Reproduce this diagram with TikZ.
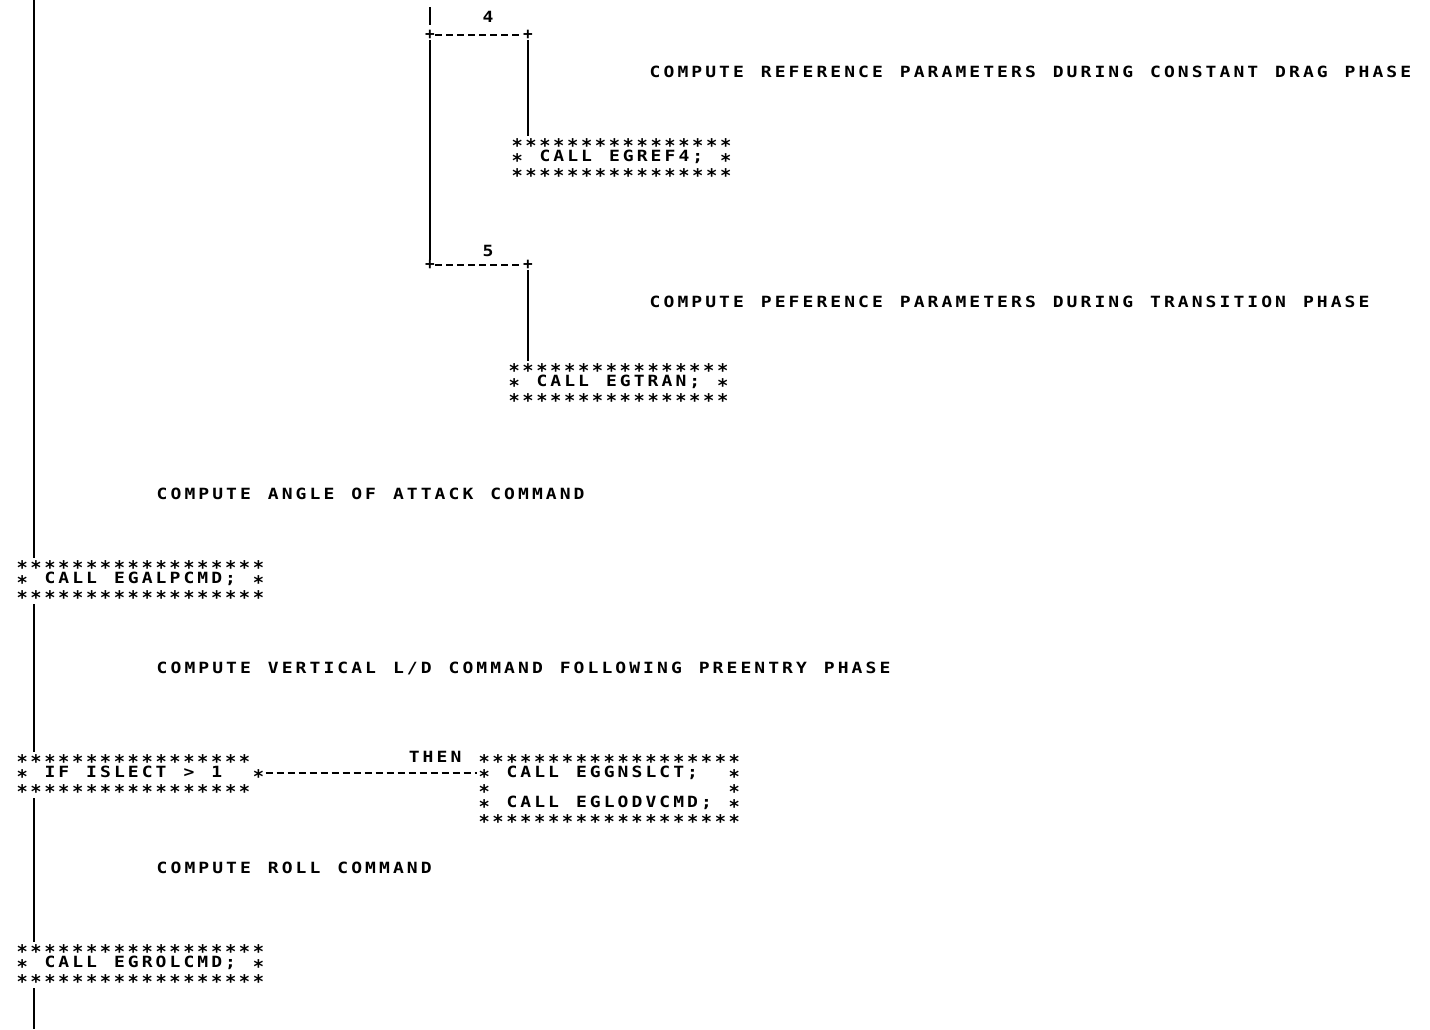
\documentclass[tikz,border=0pt]{standalone}
\usepackage{fontspec}
\usepackage{tikz}
\newfontfamily\prfont{DejaVu Sans Mono}[BoldFont={DejaVu Sans Mono Bold}]
\setlength\lineskiplimit{-20pt}
% one printer column per character
\newlength\prpitch
\setlength\prpitch{13.9pt}
\makeatletter
\def\pr@star{*}
\newcommand\prline[1]{\rule[-4pt]{0pt}{15pt}\@tfor\pr@c:=#1\do{\makebox[\prpitch][c]{\ifx\pr@c\pr@star\raisebox{-5.3pt}{\scalebox{1.25}{*}}\else\scalebox{1.2}[1.03]{\pr@c}\fi}}}
\makeatother
\tikzset{
  prrow/.style={font=\prfont\bfseries\fontsize{15}{15}\selectfont,
    inner sep=0pt, anchor=west},
  prbox/.style={prrow, align=left, anchor=north west},
  cornermark/.style={font=\prfont\bfseries\fontsize{16}{16}\selectfont, inner sep=0pt},
  flowline/.style={line width=2.4pt},
  caseline/.style={line width=1.9pt, dash pattern=on 7pt off 4pt},
}
\begin{document}
\begin{tikzpicture}[x=1pt, y=-1pt]
  \useasboundingbox (0,0) rectangle (1430,1029);

  % case 4
  \coordinate (stub top) at (430,7);
  \coordinate (stub end) at (430,25);
  \node[cornermark] (c4l) at (430,35) {+};
  \node[cornermark] (c4r) at (528,35) {+};
  \node[prrow, anchor=center] (lab4) at (488,19) {\prline{4}};
  \node[prrow] (note4) at (648,74) {\prline{COMPUTE~REFERENCE~PARAMETERS~DURING~CONSTANT~DRAG~PHASE}};
  \node[prbox] (ref4) at (510,135.5) {\prline{****************}\\
    \prline{*~CALL~EGREF4;~*}\\
    \prline{****************}};

  % case 5
  \node[cornermark] (c5l) at (430,265) {+};
  \node[cornermark] (c5r) at (528,265) {+};
  \node[prrow, anchor=center] (lab5) at (488,253) {\prline{5}};
  \node[prrow] (note5) at (648,304) {\prline{COMPUTE~PEFERENCE~PARAMETERS~DURING~TRANSITION~PHASE}};
  \node[prbox] (tran) at (507,360.5) {\prline{****************}\\
    \prline{*~CALL~EGTRAN;~*}\\
    \prline{****************}};

  \draw[flowline] (stub top) -- (stub end);
  \draw[caseline] (c4l) -- (c4r);
  \draw[flowline] (c4l) -- (c5l);
  \draw[flowline] (c4r) -- (ref4.north -| c4r);
  \draw[caseline] (c5l) -- (c5r);
  \draw[flowline] (c5r) -- (tran.north -| c5r);

  % main column
  \coordinate (main top) at (34,0);
  \coordinate (main end) at (34,1029);
  \node[prrow] (alpnote) at (155,496) {\prline{COMPUTE~ANGLE~OF~ATTACK~COMMAND}};
  \node[prbox] (alp) at (15,557.5) {\prline{******************}\\
    \prline{*~CALL~EGALPCMD;~*}\\
    \prline{******************}};

  \node[prrow] (ldnote) at (155,670) {\prline{COMPUTE~VERTICAL~L/D~COMMAND~FOLLOWING~PREENTRY~PHASE}};
  \node[prbox] (ifbox) at (15,751.5) {\prline{*****************}\\
    \prline{*~IF~ISLECT~>~1~~*}\\
    \prline{*****************}};
  \node[prbox] (gns) at (477,751.5) {\prline{*******************}\\
    \prline{*~CALL~EGGNSLCT;~~*}\\
    \prline{*~~~~~~~~~~~~~~~~~*}\\
    \prline{*~CALL~EGLODVCMD;~*}\\
    \prline{*******************}};
  \node[prrow, anchor=north east] (then) at ([xshift=-13.9pt]gns.north west) {\prline{THEN}};

  \node[prrow] (rolnote) at (155,870) {\prline{COMPUTE~ROLL~COMMAND}};
  \node[prbox] (rol) at (15,941.5) {\prline{******************}\\
    \prline{*~CALL~EGROLCMD;~*}\\
    \prline{******************}};

  \draw[flowline] (main top) -- (alp.north -| main top);
  \draw[flowline] (alp.south -| main top) -- (ifbox.north -| main top);
  \draw[caseline] ([yshift=2pt]ifbox.east) -- ([yshift=2pt]ifbox.east -| gns.west);
  \draw[flowline] (ifbox.south -| main top) -- (rol.north -| main top);
  \draw[flowline] (rol.south -| main top) -- (main end);
\end{tikzpicture}
\end{document}
